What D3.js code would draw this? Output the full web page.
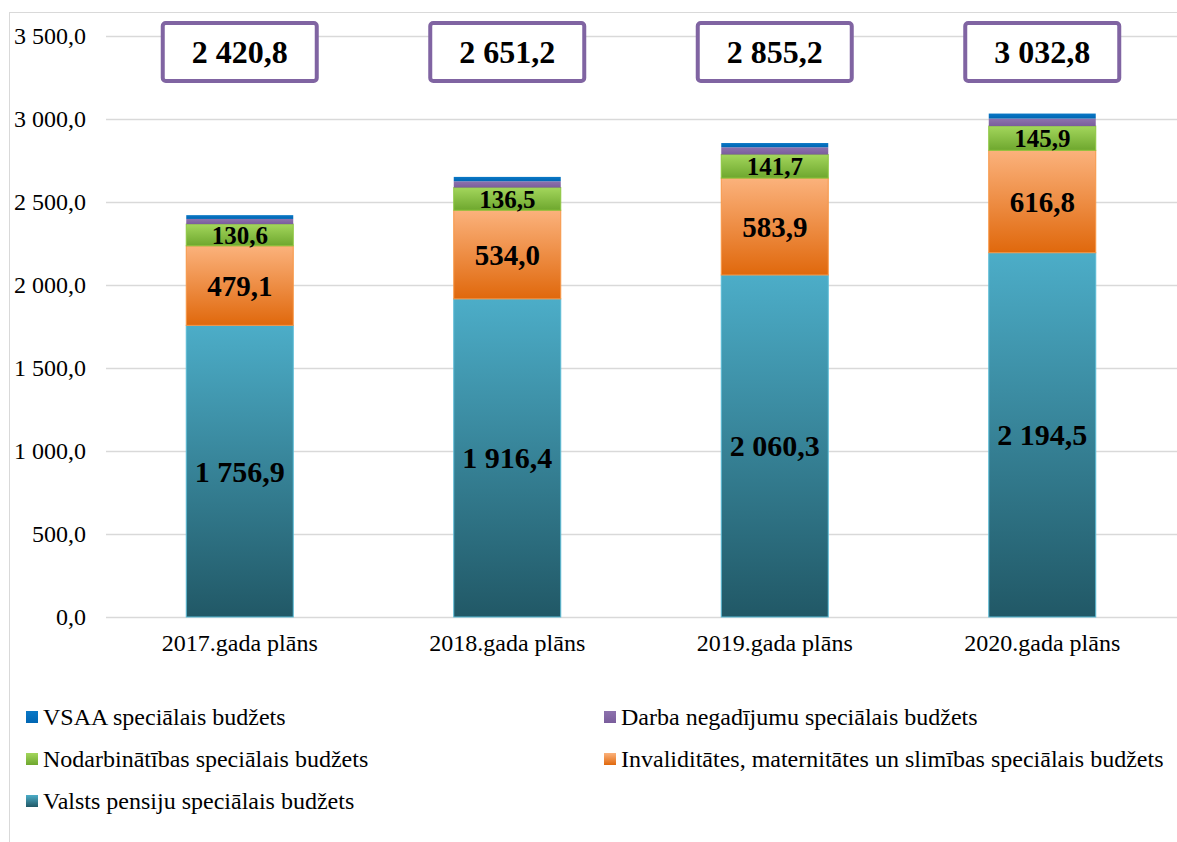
<!DOCTYPE html>
<html><head><meta charset="utf-8">
<script src="https://cdn.jsdelivr.net/npm/d3@7"></script>
<style>
html,body{margin:0;padding:0;background:#fff;}
svg{display:block;}
</style></head>
<body>
<svg id="c" width="1177" height="842"></svg>
<script>
const categories = ["2017.gada plāns","2018.gada plāns","2019.gada plāns","2020.gada plāns"];
const seriesNames = ["Valsts pensiju speciālais budžets","Invaliditātes, maternitātes un slimības speciālais budžets","Nodarbinātības speciālais budžets","Darba negadījumu speciālais budžets","VSAA speciālais budžets"];
const pensiju = [1756.9, 1916.4, 2060.3, 2194.5];
const invaliditates = [479.1, 534.0, 583.9, 616.8];
const nodarbinatibas = [130.6, 136.5, 141.7, 145.9];
const darbaNegadijumu = [31.3, 38.1, 43.8, 45.4];
const vsaa = [22.9, 26.2, 25.5, 30.2];
const totals = [2420.8, 2651.2, 2855.2, 3032.8];
const yTicks = [0, 500, 1000, 1500, 2000, 2500, 3000, 3500];
const legendOrder = [4, 3, 2, 1, 0];

const fmt = v => {
  const s = v.toFixed(1).replace(".", ",");
  const [i, d] = s.split(",");
  return i.replace(/\B(?=(\d{3})+(?!\d))/g, " ") + "," + d;
};
const FONT = "'Liberation Serif','Times New Roman',serif";

const svg = d3.select("#c");
const defs = svg.append("defs");
const grads = [
  ["gPens", "#4cadc8", "#215866"],
  ["gInv", "#fbb27c", "#e0680c"],
  ["gNod", "#a3d65c", "#6ea72e"],
  ["gDarba", "#8d72ae", "#7a5d9c"],
  ["gVsaa", "#0a78c6", "#0066b3"]
];
grads.forEach(([id, c1, c2]) => {
  const g = defs.append("linearGradient").attr("id", id).attr("x1", 0).attr("y1", 0).attr("x2", 0).attr("y2", 1);
  g.append("stop").attr("offset", "0%").attr("stop-color", c1);
  g.append("stop").attr("offset", "100%").attr("stop-color", c2);
});
const strokes = ["#5bbcd6", "#f79646", "#8cc63f", "#8064a2", "#0070c0"];

// outer frame
svg.append("rect").attr("x", 9.5).attr("y", 12.5).attr("width", 1200).attr("height", 900)
  .attr("fill", "none").attr("stroke", "#d9d9d9").attr("stroke-width", 1);

const x = d3.scaleBand().domain(categories).range([106, 1176]).paddingInner(0.6).paddingOuter(0.3);
const y = d3.scaleLinear().domain([0, 3500]).range([617, 36]);

// grid
svg.append("g").selectAll("line").data(yTicks).join("line")
  .attr("x1", 106).attr("x2", 1177)
  .attr("y1", d => Math.round(y(d)) + 0.5).attr("y2", d => Math.round(y(d)) + 0.5)
  .attr("stroke", "#d9d9d9").attr("stroke-width", 1.5);

// y axis labels
const yAxis = d3.axisLeft(y).tickValues(yTicks).tickFormat(fmt).tickSize(0).tickPadding(0);
const ya = svg.append("g").attr("transform", "translate(86,0)").call(yAxis);
ya.select(".domain").remove();
ya.selectAll("text").attr("font-family", FONT).attr("font-size", 24).attr("fill", "#000");

// x axis labels
const xAxis = d3.axisBottom(x).tickSize(0).tickPadding(0);
const xa = svg.append("g").attr("transform", "translate(0,634)").call(xAxis);
xa.select(".domain").remove();
xa.selectAll("text").attr("font-family", FONT).attr("font-size", 24).attr("fill", "#000");

// stack
const table = categories.map((c, i) => ({cat: c, s0: pensiju[i], s1: invaliditates[i], s2: nodarbinatibas[i], s3: darbaNegadijumu[i], s4: vsaa[i]}));
const stack = d3.stack().keys(["s0", "s1", "s2", "s3", "s4"])(table);
const fills = ["url(#gPens)", "url(#gInv)", "url(#gNod)", "url(#gDarba)", "url(#gVsaa)"];

stack.forEach((layer, li) => {
  svg.append("g").selectAll("rect").data(layer).join("rect")
    .attr("x", d => x(d.data.cat))
    .attr("width", x.bandwidth())
    .attr("y", d => y(d[1]))
    .attr("height", d => y(d[0]) - y(d[1]))
    .attr("fill", fills[li])
    .attr("stroke", li < 3 ? strokes[li] : "none")
    .attr("stroke-width", 1);
});

// value labels
const labelSizes = [30, 29, 25];
[0, 1, 2].forEach(li => {
  svg.append("g").selectAll("text").data(stack[li]).join("text")
    .attr("x", d => x(d.data.cat) + x.bandwidth() / 2)
    .attr("y", d => (y(d[0]) + y(d[1])) / 2)
    .attr("dy", "0.35em")
    .attr("text-anchor", "middle")
    .attr("font-family", FONT)
    .attr("font-weight", "bold")
    .attr("font-size", labelSizes[li])
    .attr("fill", "#000")
    .text(d => fmt(d[1] - d[0]));
});

// total boxes
const boxes = svg.append("g").selectAll("g").data(totals).join("g")
  .attr("transform", (d, i) => `translate(${x(categories[i]) + x.bandwidth() / 2},52)`);
boxes.append("rect").attr("x", -77).attr("y", -29).attr("width", 154).attr("height", 58)
  .attr("rx", 3).attr("fill", "#fff").attr("stroke", "#8064a2").attr("stroke-width", 4);
boxes.append("text").attr("text-anchor", "middle").attr("dy", "0.35em")
  .attr("font-family", FONT)
  .attr("font-weight", "bold").attr("font-size", 32).attr("fill", "#000")
  .text(d => fmt(d));

// legend
const legPos = [[26, 717], [604, 717], [26, 759], [604, 759], [26, 801]];
const lg = svg.append("g").selectAll("g").data(legendOrder).join("g")
  .attr("transform", (d, i) => `translate(${legPos[i][0]},${legPos[i][1]})`);
lg.append("rect").attr("x", 0).attr("y", -6).attr("width", 12).attr("height", 12)
  .attr("fill", d => fills[d]);
lg.append("text").attr("x", 17).attr("dy", "0.35em")
  .attr("font-family", FONT)
  .attr("font-size", 24).attr("fill", "#000")
  .text(d => seriesNames[d]);
</script>
</body></html>
